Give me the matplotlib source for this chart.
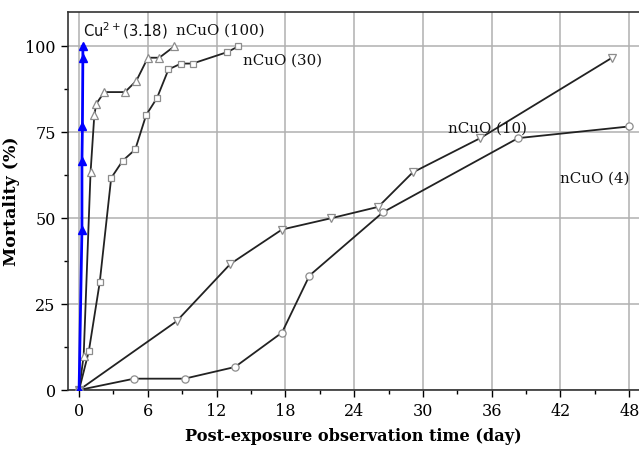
import matplotlib
matplotlib.use("Agg")
import matplotlib.pyplot as plt
from matplotlib.ticker import MultipleLocator

# Data (days, mortality %)
cu_x = [0, 0.25, 0.25, 0.29, 0.33, 0.33]
cu_y = [0, 46.7, 66.7, 76.7, 96.7, 100]

n100_x = [0, 0.4, 1.0, 1.33, 1.5, 2.2, 4.0, 5.0, 6.0, 7.0, 8.3]
n100_y = [0, 10, 63.3, 80, 83.3, 86.7, 86.7, 90, 96.7, 96.7, 100]

n30_x = [0, 0.85, 1.8, 2.8, 3.8, 4.9, 5.85, 6.8, 7.8, 8.9, 9.9, 12.9, 13.9]
n30_y = [0, 11.3, 31.3, 61.7, 66.7, 70, 80, 85, 93.3, 95, 95, 98.3, 100]

n10_x = [0, 8.5, 13.2, 17.7, 22, 26.1, 29.1, 35, 46.5]
n10_y = [0, 20, 36.7, 46.7, 50, 53.3, 63.3, 73.3, 96.7]

n4_x = [0, 4.8, 9.2, 13.6, 17.7, 20.1, 26.5, 38.3, 48]
n4_y = [0, 3.3, 3.3, 6.7, 16.7, 33.3, 51.7, 73.3, 76.7]

xticks = [0, 6, 12, 18, 24, 30, 36, 42, 48]
yticks = [0, 25, 50, 75, 100]

fig = plt.figure(figsize=(6.39, 4.5), dpi=100)
ax = fig.add_axes([0.1069, 0.1333, 0.8931, 0.84])

ax.set_xlim(-0.94, 48.85)
ax.set_ylim(0, 110)

ax.grid(True, color="#b0b0b0", linewidth=1.1, zorder=0)
ax.set_axisbelow(True)

mk = dict(markerfacecolor="white", markeredgecolor="#8c8c8c", markeredgewidth=0.9,
          color="#222222", linewidth=1.3, zorder=3)
ax.plot(n4_x, n4_y, marker="o", markersize=5.2, **mk)
ax.plot(n10_x, n10_y, marker="v", markersize=5.8, **mk)
ax.plot(n30_x, n30_y, marker="s", markersize=4.5, **mk)
ax.plot(n100_x, n100_y, marker="^", markersize=6.2, **mk)
ax.plot(cu_x, cu_y, marker="^", markersize=6, color="#0000ff", linewidth=2,
        markerfacecolor="#0000ff", markeredgecolor="#0000ff", zorder=4)

ax.set_xticks(xticks)
ax.set_yticks(yticks)
ax.xaxis.set_minor_locator(MultipleLocator(3))
ax.yaxis.set_minor_locator(MultipleLocator(12.5))
ax.tick_params(which="major", direction="out", length=5, width=1, pad=4)
ax.tick_params(which="minor", direction="out", length=3, width=1)
for lab in ax.get_xticklabels() + ax.get_yticklabels():
    lab.set_family("DejaVu Serif")
    lab.set_fontsize(11.5)

ax.spines["right"].set_visible(False)
for s in ["left", "top", "bottom"]:
    ax.spines[s].set_linewidth(1.2)
    ax.spines[s].set_color("#333333")

ax.set_xlabel("Post-exposure observation time (day)", fontsize=11.6, fontweight="bold",
              family="DejaVu Serif", labelpad=6)
ax.set_ylabel("Mortality (%)", fontsize=12.5, fontweight="bold", family="DejaVu Serif", labelpad=4)

tk = dict(fontsize=10.8, family="DejaVu Serif", color="#111111", zorder=5)
ax.text(0.35, 104.5, r"Cu$^{2+}$(3.18)", fontsize=10.6, family="DejaVu Sans", color="#111111",
        va="center", ha="left")
ax.text(8.45, 104.5, "nCuO (100)", va="center", ha="left", **tk)
ax.text(14.3, 95.8, "nCuO (30)", va="center", ha="left", **tk)
ax.text(32.2, 76.2, "nCuO (10)", va="center", ha="left", **tk)
ax.text(42.0, 61.6, "nCuO (4)", va="center", ha="left", **tk)

fig.savefig("out.png", dpi=100)
